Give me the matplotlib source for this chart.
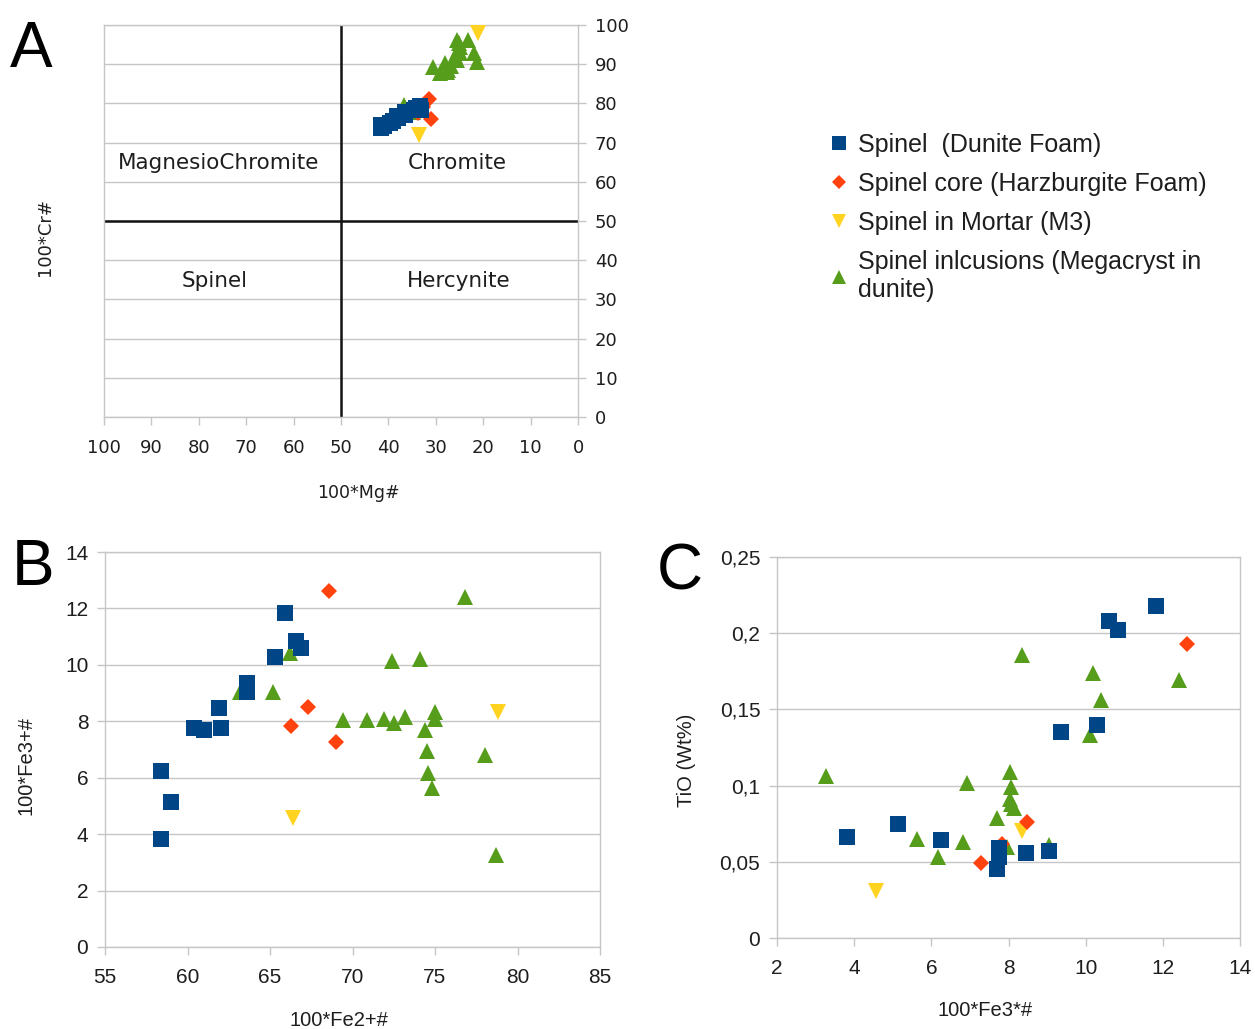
import matplotlib
matplotlib.use('Agg')
import matplotlib.pyplot as plt
from matplotlib.lines import Line2D

BLUE = '#004586'
RED = '#ff420e'
YELLOW = '#ffd320'
GREEN = '#579d1c'
GRID = '#c6c6c6'
TXT = '#1e1e1e'

labels = ['Spinel  (Dunite Foam)',
          'Spinel core (Harzburgite Foam)',
          'Spinel in Mortar (M3)',
          'Spinel inlcusions (Megacryst in\ndunite)']

# --- A: 100*Mg# vs 100*Cr#
mg_dun = [41.6, 41.0, 41.6, 39.6, 39.0, 38.0, 38.1, 36.4, 36.4, 34.7, 34.1, 33.4, 33.1]
cr_dun = [73.6, 74.3, 74.6, 75.0, 75.6, 76.2, 76.8, 77.0, 77.8, 78.2, 78.9, 79.3, 78.4]
mg_harz = [31.4, 32.7, 33.7, 31.0]
cr_harz = [81.0, 79.0, 77.5, 76.0]
mg_mort = [33.6, 21.2]
cr_mort = [72.0, 98.0]
mg_inc = [33.8, 34.8, 36.8, 30.6, 29.1, 28.1, 27.5, 26.8, 25.0, 25.0, 25.6, 25.5,
          22.0, 25.4, 25.2, 21.3, 27.6, 25.9, 23.2]
cr_inc = [78.5, 77.8, 79.5, 89.3, 87.7, 90.2, 88.5, 89.5, 92.8, 94.5, 91.0, 96.2,
          92.8, 93.5, 95.5, 90.6, 88.0, 92.0, 96.2]

# --- B: 100*Fe2+# vs 100*Fe3+#,  C: 100*Fe3+# vs TiO (wt%)
fe2_dun = [58.4, 59.0, 58.4, 60.4, 61.0, 62.0, 61.9, 63.6, 63.6, 65.3, 65.9, 66.6, 66.9]
fe3_dun = [3.82, 5.13, 6.25, 7.75, 7.69, 7.75, 8.46, 9.35, 9.05, 10.29, 11.83, 10.85, 10.6]
tio_dun = [0.066, 0.075, 0.064, 0.059, 0.045, 0.053, 0.056, 0.135, 0.057, 0.140, 0.218, 0.202, 0.208]

fe2_harz = [68.6, 67.3, 66.3, 69.0]
fe3_harz = [12.62, 8.49, 7.84, 7.28]
tio_harz = [0.193, 0.076, 0.062, 0.049]

fe2_mort = [66.4, 78.8]
fe3_mort = [4.56, 8.34]
tio_mort = [0.031, 0.070]

fe2_inc = [66.2, 65.2, 63.2, 69.4, 70.9, 71.9, 72.5, 73.2, 75.0, 75.0, 74.4, 74.5,
           78.0, 74.6, 74.8, 78.7, 72.4, 74.1, 76.8]
fe3_inc = [10.41, 9.05, 9.05, 8.05, 8.05, 8.07, 7.95, 8.14, 8.34, 8.07, 7.69, 6.93,
           6.81, 6.16, 5.63, 3.26, 10.12, 10.2, 12.42]
tio_inc = [0.156, 0.061, 0.058, 0.109, 0.091, 0.099, 0.060, 0.085, 0.186, 0.088, 0.079, 0.102,
           0.063, 0.053, 0.065, 0.106, 0.133, 0.174, 0.169]

tio_ticks = [0, 0.05, 0.1, 0.15, 0.2, 0.25]
tio_ticklabels = ['0', '0,05', '0,1', '0,15', '0,2', '0,25']

W, H = 1255, 1029
fig = plt.figure(figsize=(W / 100, H / 100), dpi=100)


def px_axes(left, top, right, bottom):
    return fig.add_axes([left / W, 1 - bottom / H, (right - left) / W, (bottom - top) / H])


def scatter_all(ax, xs, ys, sizes=(12, 8.5, 12, 12)):
    # drawn back to front: inclusions, mortar, harzburgite, dunite
    ax.plot(xs[3], ys[3], '^', color=GREEN, ms=sizes[3], mew=0, zorder=3)
    ax.plot(xs[2], ys[2], 'v', color=YELLOW, ms=sizes[2], mew=0, zorder=4)
    ax.plot(xs[1], ys[1], 'D', color=RED, ms=sizes[1], mew=0, zorder=5)
    ax.plot(xs[0], ys[0], 's', color=BLUE, ms=sizes[0], mew=0, zorder=6)


def style_box(ax):
    for sp in ax.spines.values():
        sp.set_color(GRID)
        sp.set_linewidth(1.0)
    ax.grid(axis='y', color=GRID, lw=1.0, zorder=0)
    ax.set_axisbelow(True)
    ax.tick_params(length=6, width=1.0, color=GRID, direction='out', labelcolor=TXT)


# ---------- A ----------
axA = px_axes(104, 25, 578, 417)
scatter_all(axA, [mg_dun, mg_harz, mg_mort, mg_inc], [cr_dun, cr_harz, cr_mort, cr_inc],
            sizes=(11, 8, 11, 11))
axA.set_xlim(100, 0)
axA.set_ylim(0, 100)
axA.set_xticks(range(0, 101, 10))
axA.set_yticks(range(0, 101, 10))
axA.yaxis.tick_right()
style_box(axA)
axA.tick_params(axis='x', pad=10)
axA.tick_params(axis='y', pad=6)
for t in axA.get_xticklabels() + axA.get_yticklabels():
    t.set_fontfamily('DejaVu Sans')
    t.set_fontsize(13)
axA.axvline(50, color='#111111', lw=1.8, zorder=2)
axA.axhline(50, color='#111111', lw=1.8, zorder=2)
axA.set_xlabel('100*Mg#', fontsize=12.5, family='DejaVu Sans', color=TXT)
axA.set_ylabel('100*Cr#', fontsize=13, family='DejaVu Sans', color=TXT)
axA.xaxis.set_label_coords(0.536, -0.17)
axA.yaxis.set_label_position('left')
axA.yaxis.set_label_coords(-0.106, 0.46)
for txt, x, y in [('MagnesioChromite', 75.9, 64.8), ('Chromite', 25.5, 64.8),
                  ('Spinel', 76.6, 34.7), ('Hercynite', 25.1, 34.7)]:
    axA.text(x, y, txt, ha='center', va='center', fontsize=15.5,
             family='DejaVu Sans', color=TXT, zorder=7)

# ---------- B ----------
axB = px_axes(105, 552, 600, 947)
scatter_all(axB, [fe2_dun, fe2_harz, fe2_mort, fe2_inc], [fe3_dun, fe3_harz, fe3_mort, fe3_inc])
axB.set_xlim(55, 85)
axB.set_ylim(0, 14)
axB.set_xticks(range(55, 86, 5))
axB.set_yticks(range(0, 15, 2))
style_box(axB)
axB.tick_params(axis='x', pad=9)
axB.tick_params(axis='y', pad=6)
for t in axB.get_xticklabels() + axB.get_yticklabels():
    t.set_fontfamily('Liberation Sans')
    t.set_fontsize(15)
axB.set_xlabel('100*Fe2+#', fontsize=14.5, family='Liberation Sans', color=TXT)
axB.set_ylabel('100*Fe3+#', fontsize=14.5, family='Liberation Sans', color=TXT)
axB.xaxis.set_label_coords(0.473, -0.163)
axB.yaxis.set_label_coords(-0.141, 0.46)

# ---------- C ----------
axC = px_axes(777, 557, 1240, 938)
scatter_all(axC, [fe3_dun, fe3_harz, fe3_mort, fe3_inc], [tio_dun, tio_harz, tio_mort, tio_inc])
axC.set_xlim(2, 14)
axC.set_ylim(0, 0.25)
axC.set_xticks(range(2, 15, 2))
axC.set_yticks(tio_ticks)
axC.set_yticklabels(tio_ticklabels)
style_box(axC)
axC.tick_params(axis='x', pad=9)
axC.tick_params(axis='y', pad=6)
for t in axC.get_xticklabels() + axC.get_yticklabels():
    t.set_fontfamily('Liberation Sans')
    t.set_fontsize(15)
axC.set_xlabel('100*Fe3*#', fontsize=14.5, family='Liberation Sans', color=TXT)
axC.set_ylabel('TiO (Wt%)', fontsize=14.5, family='Liberation Sans', color=TXT)
axC.xaxis.set_label_coords(0.449, -0.165)
axC.yaxis.set_label_coords(-0.176, 0.467)

# panel letters
for letter, x, y in [('A', 10, 67), ('B', 12, 585), ('C', 657, 590)]:
    fig.text(x / W, 1 - y / H, letter, fontsize=46, family='Liberation Sans',
             color='black', va='baseline', ha='left')

# legend
handles = [Line2D([], [], ls='none', marker='s', color=BLUE, ms=10.5, mew=0),
           Line2D([], [], ls='none', marker='D', color=RED, ms=7, mew=0),
           Line2D([], [], ls='none', marker='v', color=YELLOW, ms=10.5, mew=0),
           Line2D([], [], ls='none', marker='^', color=GREEN, ms=10.5, mew=0)]
fig.legend(handles, labels, loc='upper left', bbox_to_anchor=(829 / W, 1 - 133 / H),
           frameon=False, prop={'family': 'Liberation Sans', 'size': 18},
           handlelength=0.8, handletextpad=0.35, labelspacing=0.6,
           borderpad=0, borderaxespad=0, labelcolor=TXT)

fig.savefig('out.png', dpi=100, facecolor='white')
